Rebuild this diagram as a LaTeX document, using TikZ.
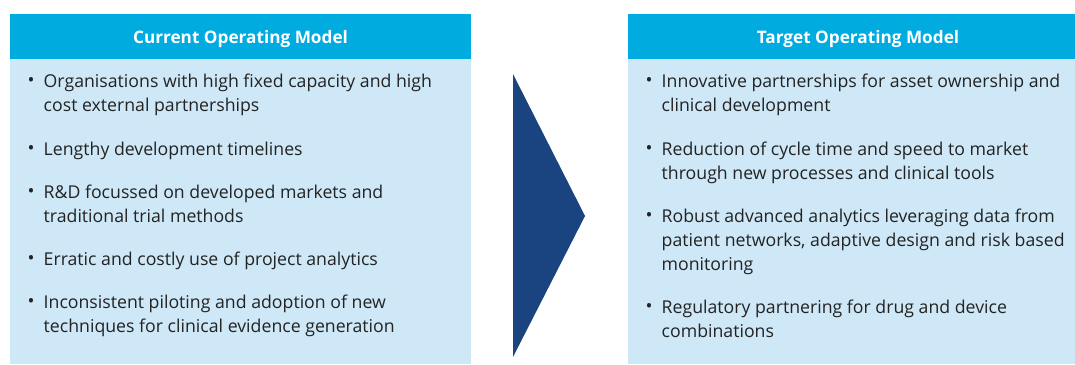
\documentclass[tikz,border=0pt]{standalone}
\usepackage{fontspec}
\setmainfont{Open Sans}
\usepackage{tikz}
\definecolor{headcyan}{HTML}{00ABE0}
\definecolor{panelblue}{HTML}{CEE8F7}
\definecolor{chevronblue}{HTML}{1A4480}
\definecolor{itemgrey}{HTML}{232323}
\newcommand{\modelitem}[1]{\makebox[16pt][l]{\raisebox{0.2pt}{\fontsize{18.5}{18}\selectfont\textbullet}}\begin{tabular}[t]{@{}l@{}}#1\end{tabular}}
\tikzset{
  headtext/.style={anchor=base,inner sep=0pt,text=white,font=\bfseries\fontsize{17.2}{22}\selectfont},
  itemtext/.style={anchor=base west,inner sep=0pt,text=itemgrey,font=\fontsize{17.7}{24}\selectfont}
}

\begin{document}
\begin{tikzpicture}[x=1pt,y=-1pt]
  \useasboundingbox (0,0) rectangle (1075,364);
  % left panel
  \fill[panelblue] (10,59) rectangle (471,364);
  \fill[headcyan] (10,14) rectangle (471,59);
  \node[headtext] (curhead) at (240.5,43) {Current Operating Model};
  \node[itemtext] (cur1) at (27.5,87) {\modelitem{Organisations with high fixed capacity and high\\cost external partnerships}};
  \node[itemtext] (cur2) at (27.5,155) {\modelitem{Lengthy development timelines}};
  \node[itemtext] (cur3) at (27.5,198) {\modelitem{R\&D focussed on developed markets and\\traditional trial methods}};
  \node[itemtext] (cur4) at (27.5,265) {\modelitem{Erratic and costly use of project analytics}};
  \node[itemtext] (cur5) at (27.5,308) {\modelitem{Inconsistent piloting and adoption of new\\techniques for clinical evidence generation}};
  % chevron
  \fill[chevronblue] (513,74) -- (585,216) -- (513,357) -- cycle;
  % right panel
  \fill[panelblue] (628,59) rectangle (1075,364);
  \fill[headcyan] (628,14) rectangle (1075,59);
  \node[headtext] (tgthead) at (858,43) {Target Operating Model};
  \node[itemtext] (tgt1) at (645.5,87) {\modelitem{Innovative partnerships for asset ownership and\\clinical development}};
  \node[itemtext] (tgt2) at (645.5,155) {\modelitem{Reduction of cycle time and speed to market\\through new processes and clinical tools}};
  \node[itemtext] (tgt3) at (645.5,222) {\modelitem{Robust advanced analytics leveraging data from\\patient networks, adaptive design and risk based\\monitoring}};
  \node[itemtext] (tgt4) at (645.5,313) {\modelitem{Regulatory partnering for drug and device\\combinations}};
\end{tikzpicture}
\end{document}
